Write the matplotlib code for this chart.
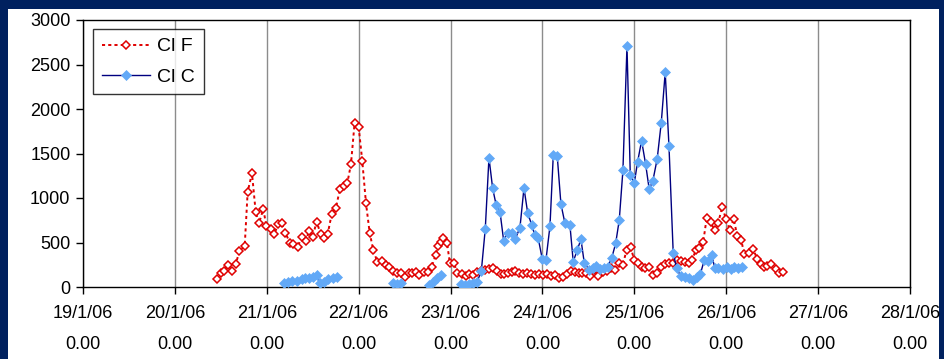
import numpy as np
import matplotlib
matplotlib.use("Agg")
import matplotlib.pyplot as plt
from matplotlib.patches import Rectangle

plt.rcParams['font.family'] = ['Liberation Sans', 'DejaVu Sans']

# time in days since 19/1/06 00:00
f_days = [1.461, 1.498, 1.538, 1.575, 1.625, 1.662, 1.701, 1.760, 1.792, 1.839,
          1.879, 1.915, 1.962, 1.995, 2.042, 2.082, 2.125, 2.162, 2.201, 2.252,
          2.288, 2.336, 2.380, 2.423, 2.459, 2.499, 2.543, 2.586, 2.619, 2.663,
          2.706, 2.753, 2.797, 2.840, 2.876, 2.916, 2.956, 3.000, 3.039, 3.079,
          3.120, 3.159, 3.202, 3.257, 3.294, 3.333, 3.373, 3.417, 3.457, 3.504,
          3.544, 3.580, 3.620, 3.659, 3.707, 3.751, 3.794, 3.838, 3.866, 3.896,
          3.921, 3.961, 3.993, 4.037, 4.073, 4.121, 4.164, 4.200, 4.247, 4.287,
          4.331, 4.374, 4.418, 4.458, 4.505, 4.545, 4.584, 4.621, 4.665, 4.704,
          4.744, 4.791, 4.831, 4.875, 4.918, 4.962, 5.005, 5.049, 5.092, 5.136,
          5.183, 5.220, 5.263, 5.307, 5.354, 5.400, 5.430, 5.470, 5.517, 5.560,
          5.607, 5.655, 5.698, 5.742, 5.789, 5.836, 5.873, 5.916, 5.960, 5.999,
          6.042, 6.083, 6.119, 6.162, 6.199, 6.249, 6.286, 6.330, 6.373, 6.417,
          6.460, 6.504, 6.547, 6.591, 6.627, 6.671, 6.706, 6.750, 6.787, 6.830,
          6.874, 6.913, 6.957, 6.997, 7.040, 7.081, 7.120, 7.163, 7.196, 7.250,
          7.294, 7.337, 7.374, 7.410, 7.446, 7.490, 7.541, 7.577, 7.620]
f_vals = [90, 160, 183, 247, 180, 255, 400, 465, 1070, 1277,
          846, 715, 876, 689, 655, 595, 708, 715, 610, 498,
          480, 450, 558, 520, 625, 566, 734, 596, 547, 596,
          817, 891, 1105, 1135, 1165, 1379, 1846, 1794, 1419, 947,
          607, 416, 285, 296, 244, 221, 183, 154, 157, 109,
          154, 161, 165, 135, 165, 169, 225, 363, 461, 506,
          547, 498, 266, 273, 154, 146, 127, 146, 131, 165,
          176, 191, 199, 210, 183, 150, 146, 161, 169, 183,
          161, 150, 161, 150, 138, 146, 138, 146, 127, 131,
          98, 116, 150, 176, 165, 154, 161, 161, 127, 191,
          124, 172, 183, 210, 191, 266, 244, 416, 446, 303,
          266, 221, 210, 228, 135, 154, 228, 255, 266, 266,
          303, 290, 277, 266, 303, 416, 435, 509, 772, 727,
          640, 722, 902, 760, 640, 764, 576, 528, 371, 379,
          424, 315, 258, 221, 236, 255, 199, 161, 165]

nan = np.nan
c_days = [2.187, 2.234, 2.278, 2.325, 2.380, 2.416, 2.459, 2.506, 2.546, 2.579,
          2.622, 2.669, 2.717, 2.764, 2.80,
          3.373, 3.417, 3.457, 3.50,
          3.765, 3.809, 3.852, 3.896, 3.95,
          4.113, 4.160, 4.200, 4.245, 4.290, 4.335, 4.378, 4.418, 4.458, 4.497,
          4.538, 4.578, 4.621, 4.665, 4.704, 4.755, 4.799, 4.839, 4.883, 4.918,
          4.954, 4.998, 5.038, 5.082, 5.118, 5.161, 5.201, 5.245, 5.299, 5.335,
          5.379, 5.419, 5.455, 5.509, 5.553, 5.582, 5.625, 5.669, 5.709, 5.753,
          5.797, 5.836, 5.876, 5.920, 5.956, 5.999, 6.036, 6.079, 6.123, 6.162,
          6.202, 6.249, 6.293, 6.336, 6.377, 6.423, 6.460, 6.504, 6.551, 6.597,
          6.641, 6.685, 6.720, 6.761, 6.797, 6.841, 6.877, 6.913, 6.961, 7.004,
          7.048, 7.084, 7.127, 7.168]
c_vals = [48, 60, 64, 71, 86, 98, 98, 116, 140, 45,
          60, 86, 100, 110, nan,
          41, 30, 41, nan,
          25, 60, 100, 140, nan,
          30, 25, 35, 40, 60, 180, 655, 1453, 1109, 918,
          846, 520, 610, 610, 539, 666, 1112, 835, 697, 584,
          547, 315, 303, 685, 1483, 1472, 933, 715, 697, 285,
          416, 536, 273, 191, 210, 239, 199, 210, 228, 322,
          491, 753, 1315, 2708, 1258, 1165, 1408, 1644, 1379, 1098,
          1195, 1442, 1846, 2412, 1584, 386, 210, 124, 109, 98,
          79, 116, 150, 303, 296, 360, 210, 210, 199, 221,
          199, 221, 210, 221]

x_tick_labels = ["19/1/06\n0.00", "20/1/06\n0.00", "21/1/06\n0.00", "22/1/06\n0.00",
                 "23/1/06\n0.00", "24/1/06\n0.00", "25/1/06\n0.00", "26/1/06\n0.00",
                 "27/1/06\n0.00", "28/1/06\n0.00"]
y_ticks = [0, 500, 1000, 1500, 2000, 2500, 3000]
series_names = ["Cl F", "Cl C"]

W, H = 945, 359
fig = plt.figure(figsize=(W / 100, H / 100), dpi=100)
fig.patch.set_facecolor("#00215f")
bg = Rectangle((8 / W, 0), (939 - 8) / W, (H - 9) / H,
               transform=fig.transFigure, facecolor="white",
               edgecolor="none", zorder=-10)
fig.add_artist(bg)

ax = fig.add_axes([83 / W, (H - 287) / H, (910 - 83) / W, (287 - 20) / H])
ax.set_zorder(1)
ax.set_facecolor("white")

ax.plot(f_days, f_vals, color="#e00000", linestyle=(0, (1.6, 1.6)), linewidth=1.4,
        marker="D", markersize=4.3, markerfacecolor="white",
        markeredgecolor="#e00000", markeredgewidth=1.1, label=series_names[0],
        zorder=3)
ax.plot(c_days, c_vals, color="#000080", linestyle="-", linewidth=1.0,
        marker="D", markersize=4.8, markerfacecolor="#62a9f7",
        markeredgecolor="#62a9f7", markeredgewidth=0.5, label=series_names[1],
        zorder=4)

ax.set_xlim(0, 9)
ax.set_ylim(0, 3000)
ax.set_xticks(range(10))
ax.set_xticklabels(x_tick_labels, linespacing=2.05)
ax.set_yticks(y_ticks)
ax.set_yticklabels([str(v) for v in y_ticks])
ax.tick_params(axis="both", direction="out", length=5, width=1, color="black",
               labelsize=13, labelcolor="black")
ax.tick_params(axis="x", pad=8)
ax.tick_params(axis="y", pad=4)
ax.grid(axis="x", color="#8c8c8c", linewidth=1.0)
ax.set_axisbelow(True)
for s in ax.spines.values():
    s.set_color("black")
    s.set_linewidth(1.0)

leg = ax.legend(loc="upper left", bbox_to_anchor=(10 / 827, 1 - 9 / 267),
                frameon=True, fancybox=False, shadow=False, fontsize=14,
                handlelength=2.5, handletextpad=0.35, borderpad=0.45,
                labelspacing=0.65, borderaxespad=0)
leg.get_frame().set_edgecolor("black")
leg.get_frame().set_linewidth(1.0)

fig.savefig("out.png", dpi=100, facecolor=fig.get_facecolor())
